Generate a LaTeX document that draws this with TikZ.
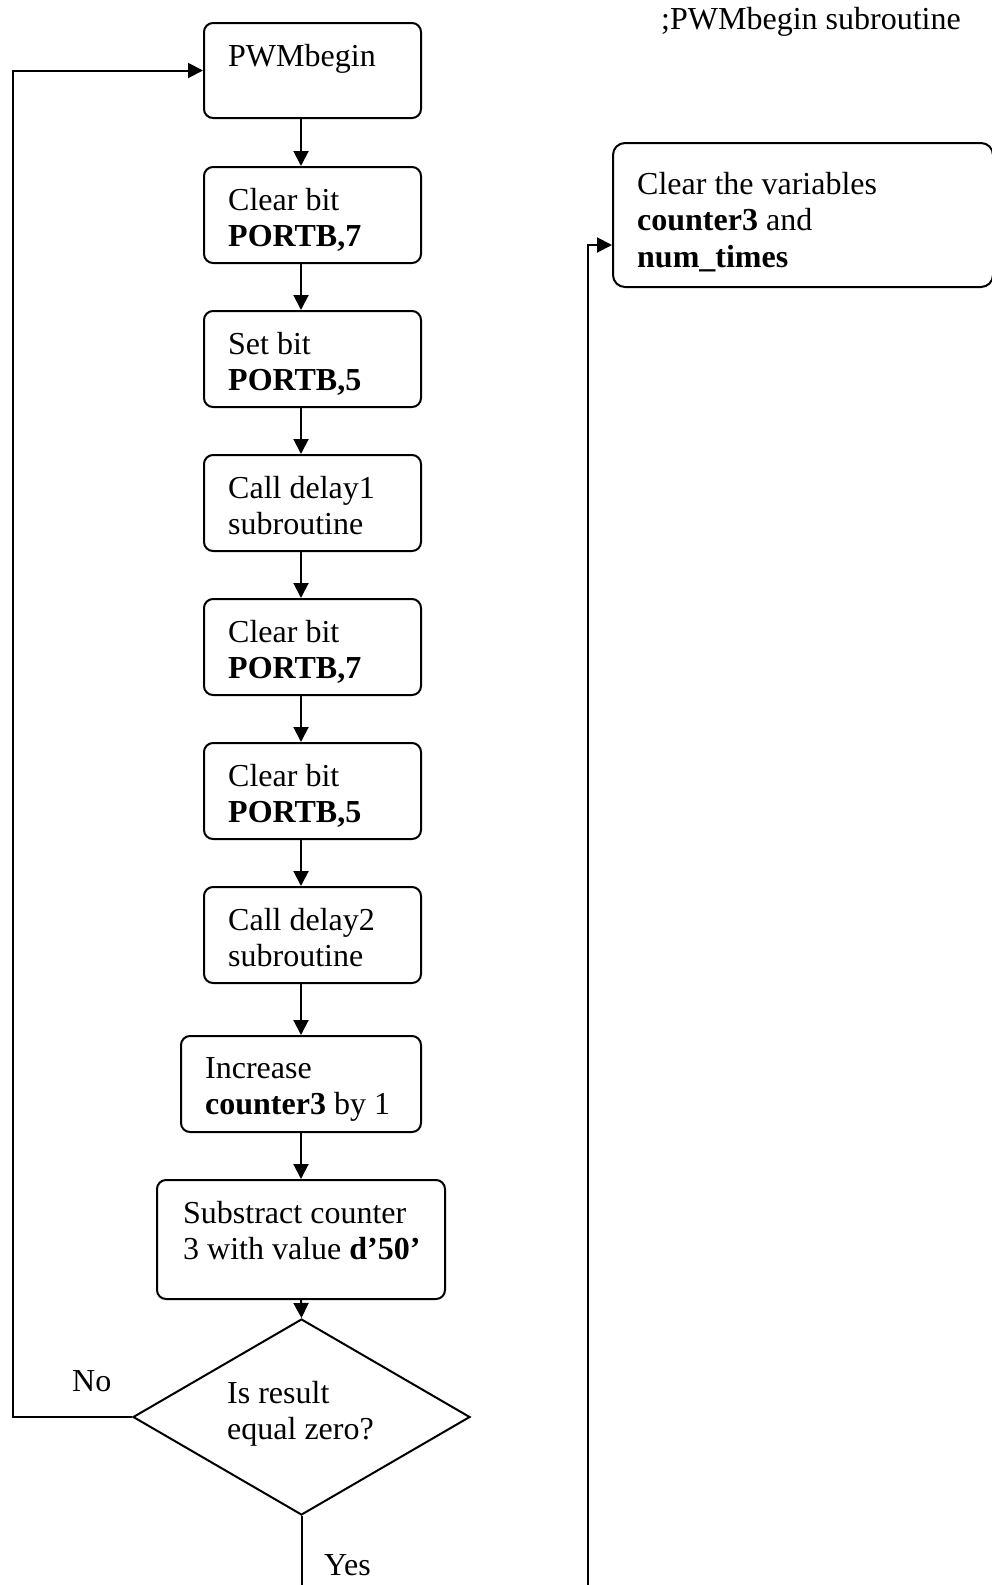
\documentclass[tikz,border=0pt]{standalone}
\usepackage{fontspec}
\setmainfont{Liberation Serif}
\usetikzlibrary{shapes.geometric,arrows.meta}
\newcommand\mylines[1]{\parbox[t]{420pt}{\raggedright #1}}
\begin{document}
\begin{tikzpicture}[x=1pt,y=-1pt,
  box/.style={draw,line width=2pt,rounded corners=9pt,inner sep=0pt},
  txt/.style={anchor=base west,inner sep=0pt,font=\fontsize{32}{36.5}\selectfont},
  arr/.style={line width=2pt,-{Triangle[length=15pt,width=15pt]}},
  ln/.style={line width=2pt}]
\useasboundingbox (0,0) rectangle (992,1585);
\coordinate (ax) at (301,0);
% boxes
\node[box,minimum width=217pt,minimum height=95pt] (pwm) at (312.5,70.5) {};
\node[box,minimum width=217pt,minimum height=96pt] (c1) at (312.5,215) {};
\node[box,minimum width=217pt,minimum height=96pt] (s1) at (312.5,359) {};
\node[box,minimum width=217pt,minimum height=96pt] (d1) at (312.5,503) {};
\node[box,minimum width=217pt,minimum height=96pt] (c2) at (312.5,647) {};
\node[box,minimum width=217pt,minimum height=96pt] (c3) at (312.5,791) {};
\node[box,minimum width=217pt,minimum height=96pt] (d2) at (312.5,935) {};
\node[box,minimum width=240pt,minimum height=96pt] (inc) at (301,1084) {};
\node[box,minimum width=288pt,minimum height=119pt] (sub) at (301,1239.5) {};
\node[draw,line width=2pt,diamond,inner sep=0pt,minimum width=337pt,minimum height=196pt] (dia) at (301.5,1417) {};
\node[box,rounded corners=12pt,minimum width=380pt,minimum height=144pt] (rbox) at (803,215) {};
% texts
\node[txt] (title) at (661,29) {;PWMbegin subroutine};
\node[txt] (tpwm) at (228,66) {PWMbegin};
\node[txt] (tc1) at (228,210) {\mylines{Clear bit\\\textbf{PORTB,7}}};
\node[txt] (ts1) at (228,354) {\mylines{Set bit\\\textbf{PORTB,5}}};
\node[txt] (td1) at (228,498) {\mylines{Call delay1\\subroutine}};
\node[txt] (tc2) at (228,642) {\mylines{Clear bit\\\textbf{PORTB,7}}};
\node[txt] (tc3) at (228,786) {\mylines{Clear bit\\\textbf{PORTB,5}}};
\node[txt] (td2) at (228,930) {\mylines{Call delay2\\subroutine}};
\node[txt] (tinc) at (205,1078) {\mylines{Increase\\\textbf{counter3} by 1}};
\node[txt] (tsub) at (183,1223) {\mylines{Substract counter\\3 with value \textbf{d’50’}}};
\node[txt] (tdia) at (227,1403) {\mylines{Is result\\equal zero?}};
\node[txt] (trbox) at (637,194) {\mylines{Clear the variables\\\textbf{counter3} and\\\textbf{num\_times}}};
\node[txt] (tno) at (72,1391) {No};
\node[txt] (tyes) at (324,1575) {Yes};
% connectors
\draw[arr] (pwm.south -| ax) -- (c1.north -| ax);
\draw[arr] (c1.south -| ax) -- (s1.north -| ax);
\draw[arr] (s1.south -| ax) -- (d1.north -| ax);
\draw[arr] (d1.south -| ax) -- (c2.north -| ax);
\draw[arr] (c2.south -| ax) -- (c3.north -| ax);
\draw[arr] (c3.south -| ax) -- (d2.north -| ax);
\draw[arr] (d2.south -| ax) -- (inc.north -| ax);
\draw[arr] (inc.south) -- (sub.north);
\draw[arr] (sub.south) -- (dia.north);
\coordinate (nox) at (13,0);
\draw[arr] (dia.west) -- (dia.west -| nox) |- (pwm.west);
\coordinate (yend) at (301.5,1585);
\draw[ln] (dia.south) -- (yend);
\coordinate (rstart) at (588,1585);
\draw[arr] (rstart) |- ([yshift=-30pt]rbox.west);
\end{tikzpicture}
\end{document}
